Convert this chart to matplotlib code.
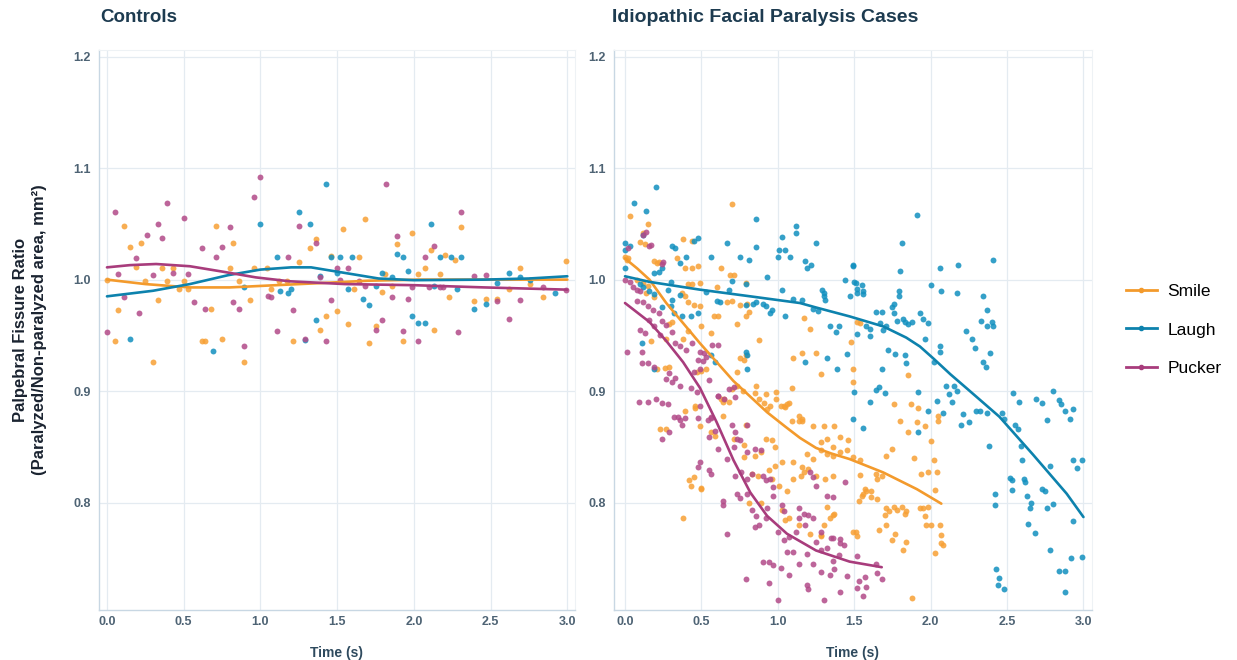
import numpy as np
import matplotlib.pyplot as plt
from matplotlib.lines import Line2D

plt.rcParams['font.family'] = ['Liberation Sans', 'DejaVu Sans']

# colours
C_SMILE = '#f7a035'
C_LAUGH = '#1190bf'
C_PUCKER = '#b24a88'
L_SMILE = '#f39a2c'
L_LAUGH = '#0d82ad'
L_PUCKER = '#a83c7c'

# ---- Controls: scatter (time s, ratio)
ctrl_smile = [
    (0.00, 1.000), (0.05, 0.945), (0.07, 0.973), (0.11, 1.048), (0.15, 1.029), (0.19, 1.011),
    (0.22, 1.033), (0.25, 0.999), (0.30, 0.926), (0.33, 0.982), (0.36, 1.010), (0.39, 0.999),
    (0.43, 1.010), (0.47, 0.992), (0.50, 0.999), (0.53, 0.992), (0.62, 0.945), (0.64, 0.945),
    (0.68, 0.974), (0.71, 1.048), (0.75, 0.947), (0.80, 1.010), (0.82, 1.033), (0.86, 0.999),
    (0.89, 0.926), (0.93, 0.982), (0.96, 1.010), (1.04, 1.010), (1.07, 0.992), (1.12, 0.999),
    (1.17, 0.999), (1.21, 0.945), (1.25, 1.016), (1.32, 1.028), (1.36, 1.036), (1.39, 0.955),
    (1.43, 0.967), (1.46, 1.021), (1.50, 0.972), (1.54, 1.045), (1.57, 0.960), (1.61, 0.992),
    (1.64, 1.020), (1.68, 1.054), (1.71, 0.943), (1.75, 0.958), (1.79, 0.989), (1.81, 1.005),
    (1.86, 0.994), (1.89, 1.032), (1.93, 0.945), (1.99, 1.042), (2.03, 1.005), (2.07, 1.010),
    (2.11, 1.027), (2.13, 0.955), (2.17, 1.005), (2.20, 1.022), (2.23, 0.984), (2.27, 1.018),
    (2.31, 1.047), (2.39, 0.981), (2.47, 0.983), (2.54, 0.983), (2.62, 0.992), (2.69, 1.010),
    (2.76, 0.996), (2.84, 0.984), (2.99, 1.017),
]
ctrl_laugh = [
    (0.15, 0.947), (0.69, 0.936), (0.89, 0.993), (1.00, 1.050), (1.11, 1.020), (1.13, 0.990),
    (1.18, 0.988), (1.20, 0.992), (1.25, 1.061), (1.29, 0.946), (1.32, 1.050), (1.36, 0.964),
    (1.39, 1.003), (1.43, 1.086), (1.46, 1.020), (1.50, 1.006), (1.52, 1.020), (1.57, 0.992),
    (1.60, 1.020), (1.67, 0.983), (1.71, 0.977), (1.75, 0.994), (1.79, 1.006), (1.86, 1.002),
    (1.89, 1.023), (1.93, 1.020), (1.96, 1.008), (1.99, 0.967), (2.03, 0.961), (2.07, 0.961),
    (2.11, 1.050), (2.13, 0.994), (2.17, 1.020), (2.24, 1.020), (2.28, 0.992), (2.31, 1.020),
    (2.39, 0.974), (2.47, 0.978), (2.54, 0.997), (2.62, 1.006), (2.69, 1.002), (2.76, 1.000),
    (2.92, 0.988),
]
ctrl_pucker = [
    (0.00, 0.953), (0.05, 1.061), (0.07, 1.005), (0.11, 0.984), (0.19, 1.019), (0.21, 0.970),
    (0.26, 1.040), (0.30, 1.004), (0.33, 1.050), (0.36, 1.037), (0.39, 1.069), (0.43, 1.006),
    (0.50, 1.055), (0.53, 1.005), (0.57, 0.980), (0.62, 1.028), (0.64, 0.974), (0.71, 1.020),
    (0.75, 1.029), (0.80, 1.047), (0.82, 0.980), (0.86, 0.974), (0.89, 0.940), (0.96, 1.074),
    (1.00, 1.092), (1.05, 0.985), (1.07, 0.984), (1.11, 0.954), (1.18, 1.020), (1.21, 0.973),
    (1.25, 1.048), (1.29, 0.947), (1.36, 1.033), (1.39, 1.002), (1.43, 0.945), (1.46, 0.982),
    (1.50, 1.010), (1.52, 1.000), (1.57, 1.010), (1.64, 0.999), (1.68, 0.994), (1.75, 0.955),
    (1.79, 0.964), (1.82, 1.086), (1.86, 0.984), (1.89, 1.039), (1.93, 0.954), (1.96, 0.983),
    (1.99, 0.993), (2.03, 0.945), (2.07, 1.020), (2.10, 0.993), (2.13, 1.030), (2.17, 0.993),
    (2.19, 0.993), (2.29, 0.953), (2.31, 1.061), (2.39, 1.003), (2.47, 1.004), (2.54, 0.981),
    (2.62, 0.965), (2.69, 0.982), (2.84, 0.993), (2.99, 0.991),
]

# ---- Controls: smooth fits (knots)
ctrl_smile_fit = [(0.0, 1.000), (0.25, 0.996), (0.54, 0.993), (0.8, 0.993), (1.1, 0.995),
                  (1.41, 0.997), (1.7, 0.999), (2.03, 1.000), (2.5, 1.000), (3.0, 1.000)]
ctrl_laugh_fit = [(0.0, 0.985), (0.3, 0.990), (0.54, 0.996), (0.79, 1.004), (1.0, 1.009),
                  (1.2, 1.011), (1.33, 1.011), (1.55, 1.006), (1.77, 1.001), (2.0, 0.9995),
                  (2.46, 1.000), (2.75, 1.001), (3.0, 1.003)]
ctrl_pucker_fit = [(0.0, 1.011), (0.15, 1.013), (0.32, 1.014), (0.54, 1.012), (0.76, 1.007),
                   (0.97, 1.002), (1.19, 0.9985), (1.55, 0.996), (2.0, 0.995), (2.46, 0.993),
                   (3.0, 0.991)]

# ---- Idiopathic facial paralysis cases: scatter
case_smile = [
    (0.03, 1.057), (0.70, 1.068), (0.15, 1.050), (0.12, 1.042), (0.10, 1.034), (0.13, 1.032),
    (0.00, 1.020), (0.02, 1.019), (0.01, 1.018), (0.38, 1.036), (0.44, 1.035), (0.19, 1.017),
    (0.21, 1.015), (0.22, 1.016), (0.34, 1.019), (0.39, 1.010), (0.44, 1.010), (0.48, 1.012),
    (0.63, 1.010), (0.69, 1.004), (0.71, 1.004), (0.08, 1.000), (0.12, 0.997), (0.15, 0.994),
    (0.14, 0.988), (0.19, 0.984), (0.41, 0.996), (0.44, 0.996), (0.49, 0.997), (0.60, 0.993),
    (0.79, 0.997), (0.37, 0.988), (0.39, 0.985), (0.41, 0.980), (0.45, 0.977), (0.49, 0.976),
    (0.67, 0.980), (0.70, 0.981), (0.75, 0.977), (0.80, 0.978), (0.29, 0.960), (0.31, 0.962),
    (0.50, 0.958), (0.56, 0.952), (0.73, 0.960), (0.79, 0.967), (0.81, 0.971), (0.88, 0.946),
    (0.17, 0.945), (0.27, 0.947), (0.21, 0.920), (0.26, 0.921), (0.29, 0.922), (0.38, 0.947),
    (0.41, 0.954), (0.58, 0.967), (0.61, 0.967), (0.47, 0.917), (0.50, 0.918), (0.53, 0.920),
    (0.73, 0.917), (0.75, 0.930), (0.79, 0.932), (0.78, 0.928), (1.17, 0.966), (1.21, 0.956),
    (1.10, 0.930), (1.16, 0.934), (1.25, 0.934), (1.28, 0.915), (1.48, 0.944), (1.52, 0.962),
    (1.54, 0.961), (1.49, 0.920), (1.49, 0.908), (1.85, 0.914), (1.76, 0.888), (1.92, 0.885),
    (1.09, 0.903), (0.85, 0.898), (0.88, 0.893), (0.91, 0.889), (0.93, 0.884), (0.95, 0.887),
    (0.99, 0.893), (1.02, 0.887), (1.05, 0.886), (1.07, 0.889), (1.14, 0.878), (1.16, 0.875),
    (0.63, 0.893), (0.68, 0.890), (0.46, 0.887), (0.64, 0.878), (0.23, 0.866), (0.27, 0.866),
    (0.49, 0.869), (0.56, 0.863), (0.59, 0.860), (0.42, 0.820), (0.45, 0.823), (0.50, 0.813),
    (0.38, 0.786), (0.39, 0.882), (0.46, 0.885), (0.64, 0.890), (0.65, 0.893), (0.70, 0.902),
    (0.73, 0.905), (0.77, 0.900), (0.86, 0.905), (0.92, 0.897), (0.99, 0.899), (0.79, 0.870),
    (0.78, 0.852), (0.71, 0.857), (0.78, 0.841), (0.85, 0.842), (0.89, 0.845), (0.92, 0.857),
    (0.96, 0.856), (0.98, 0.850), (1.04, 0.887), (1.06, 0.888), (1.09, 0.873), (1.14, 0.873),
    (1.16, 0.873), (1.23, 0.869), (1.30, 0.869), (1.37, 0.869), (0.83, 0.826), (0.87, 0.824),
    (0.94, 0.829), (0.98, 0.833), (1.03, 0.836), (0.96, 0.821), (1.01, 0.815), (1.06, 0.810),
    (1.10, 0.821), (1.15, 0.824), (1.17, 0.827), (1.19, 0.844), (1.23, 0.839), (1.28, 0.847),
    (1.32, 0.844), (1.36, 0.842), (1.41, 0.845), (1.45, 0.847), (1.49, 0.841), (1.54, 0.838),
    (1.10, 0.836), (1.16, 0.832), (1.20, 0.830), (1.25, 0.824), (1.31, 0.821), (1.36, 0.824),
    (1.28, 0.854), (1.32, 0.857), (1.36, 0.850), (1.41, 0.859), (1.46, 0.856), (1.03, 0.793),
    (1.07, 0.786), (1.14, 0.780), (1.28, 0.771), (1.32, 0.796), (1.36, 0.789), (1.49, 0.774),
    (1.56, 0.808), (1.53, 0.801), (1.55, 0.806), (1.58, 0.810), (1.61, 0.805), (1.65, 0.803),
    (1.68, 0.824), (1.65, 0.821), (1.70, 0.789), (1.73, 0.792), (1.78, 0.793), (1.81, 0.796),
    (1.83, 0.790), (1.66, 0.775), (1.71, 0.780), (1.75, 0.766), (1.82, 0.757), (1.80, 0.873),
    (1.85, 0.863), (1.87, 0.888), (1.91, 0.872), (1.96, 0.869), (2.00, 0.855), (2.05, 0.878),
    (1.89, 0.840), (1.94, 0.826), (1.98, 0.827), (2.04, 0.827), (1.71, 0.842), (1.75, 0.848),
    (1.93, 0.795), (1.98, 0.796), (1.97, 0.780), (2.00, 0.780), (2.05, 0.873), (2.02, 0.838),
    (2.06, 0.780), (2.07, 0.771), (2.07, 0.764), (2.03, 0.755), (1.88, 0.714), (0.81, 0.800),
    (0.89, 0.800), (1.05, 0.784), (1.21, 0.772), (1.28, 0.770), (1.30, 0.780), (1.34, 0.786),
    (1.37, 0.790), (1.51, 0.774), (1.54, 0.825), (1.64, 0.826), (1.57, 0.812), (1.61, 0.810),
    (1.71, 0.795), (1.76, 0.796), (1.84, 0.792), (1.77, 0.772), (1.84, 0.765), (1.52, 0.770),
    (1.95, 0.795), (2.03, 0.811), (1.96, 0.788), (2.08, 0.762), (0.43, 0.815), (0.50, 0.812),
]
case_laugh = [
    (0.00, 1.033), (0.00, 1.027), (0.03, 1.030), (0.00, 1.010), (0.06, 1.069), (0.12, 1.040),
    (0.14, 1.062), (0.10, 0.996), (0.12, 0.993), (0.16, 0.990), (0.19, 0.987), (0.20, 1.083),
    (0.11, 0.943), (0.19, 0.920), (0.19, 1.006), (0.22, 1.007), (0.24, 1.010), (0.24, 0.975),
    (0.28, 0.991), (0.30, 0.998), (0.30, 0.976), (0.31, 1.030), (0.31, 0.982), (0.32, 0.970),
    (0.33, 1.028), (0.36, 1.015), (0.36, 0.986), (0.37, 0.967), (0.40, 1.020), (0.43, 0.967),
    (0.45, 1.035), (0.48, 1.037), (0.48, 0.970), (0.53, 0.989), (0.56, 1.020), (0.56, 0.932),
    (0.59, 0.926), (0.60, 0.981), (0.62, 0.980), (0.67, 1.033), (0.68, 0.991), (0.70, 0.999),
    (0.75, 1.020), (0.79, 0.977), (0.79, 0.996), (0.79, 0.935), (0.80, 0.932), (0.80, 0.920),
    (0.81, 1.018), (0.84, 0.978), (0.86, 1.054), (0.86, 1.029), (0.86, 0.980), (0.90, 0.978),
    (0.92, 0.976), (0.93, 1.002), (0.95, 0.970), (0.96, 0.973), (1.00, 1.020), (1.01, 1.027),
    (1.03, 1.038), (1.03, 0.991), (1.05, 1.027), (1.05, 0.967), (1.08, 1.020), (1.10, 0.983),
    (1.12, 1.048), (1.12, 1.042), (1.16, 0.982), (1.18, 1.017), (1.18, 0.926), (1.19, 1.010),
    (1.22, 1.013), (1.23, 0.974), (1.25, 1.033), (1.26, 0.972), (1.29, 0.991), (1.30, 0.988),
    (1.30, 0.985), (1.31, 0.982), (1.32, 0.930), (1.34, 0.958), (1.38, 0.953), (1.39, 0.920),
    (1.40, 0.958), (1.44, 1.000), (1.45, 0.933), (1.47, 0.985), (1.49, 1.012), (1.49, 0.875),
    (1.50, 0.998), (1.51, 0.997), (1.52, 0.988), (1.52, 0.951), (1.50, 0.899), (1.56, 0.990),
    (1.56, 0.987), (1.56, 0.867), (1.58, 0.958), (1.60, 0.956), (1.60, 0.949), (1.60, 0.890),
    (1.64, 0.971), (1.64, 0.901), (1.67, 0.961), (1.69, 0.955), (1.68, 0.920), (1.66, 0.904),
    (1.70, 0.898), (1.71, 0.958), (1.72, 0.937), (1.75, 0.975), (1.76, 0.978), (1.77, 0.933),
    (1.78, 0.963), (1.79, 0.990), (1.79, 0.985), (1.80, 1.008), (1.81, 1.033), (1.82, 0.965),
    (1.83, 0.932), (1.84, 0.925), (1.85, 0.960), (1.91, 1.058), (1.92, 0.899), (1.92, 0.863),
    (1.93, 0.970), (1.95, 0.965), (1.96, 0.947), (1.98, 0.961), (1.98, 0.882), (2.00, 0.995),
    (2.02, 0.926), (2.04, 0.891), (2.06, 0.940), (2.06, 0.935), (2.06, 1.010), (2.07, 0.990),
    (2.08, 0.880), (2.10, 0.905), (2.12, 0.897), (2.14, 0.890), (2.15, 0.905), (2.17, 0.988),
    (2.17, 0.900), (2.18, 1.013), (2.20, 0.870), (2.21, 0.879), (2.23, 0.954), (2.25, 0.872),
    (2.27, 0.947), (2.29, 0.939), (2.30, 0.882), (2.32, 0.882), (2.33, 0.963), (2.34, 0.926),
    (2.34, 0.985), (2.36, 0.922), (2.37, 0.880), (2.37, 0.958), (2.38, 0.851), (2.39, 0.934),
    (2.41, 1.018), (2.41, 0.958), (2.42, 0.808), (2.42, 0.798), (2.43, 0.740), (2.45, 0.732),
    (2.44, 0.726), (2.48, 0.722), (2.47, 0.880), (2.48, 0.875), (2.54, 0.898), (2.52, 0.822),
    (2.53, 0.820), (2.53, 0.811), (2.55, 0.870), (2.57, 0.866), (2.58, 0.890), (2.59, 0.851),
    (2.60, 0.838), (2.61, 0.821), (2.63, 0.806), (2.62, 0.818), (2.64, 0.781), (2.65, 0.795),
    (2.66, 0.800), (2.68, 0.773), (2.69, 0.893), (2.73, 0.889), (2.73, 0.812), (2.75, 0.810),
    (2.76, 0.795), (2.76, 0.874), (2.78, 0.833), (2.78, 0.757), (2.80, 0.799), (2.80, 0.900),
    (2.84, 0.892), (2.84, 0.739), (2.85, 0.888), (2.88, 0.882), (2.88, 0.739), (2.88, 0.720),
    (2.91, 0.875), (2.92, 0.750), (2.93, 0.838), (2.93, 0.783), (2.93, 0.884), (2.96, 0.831),
    (2.99, 0.838), (2.99, 0.751), (1.49, 1.013), (1.52, 0.992), (1.55, 0.995), (1.68, 0.971),
    (1.76, 0.970), (1.83, 0.962), (1.88, 0.962), (2.37, 0.973), (2.40, 0.962),
]
case_pucker = [
    (0.12, 1.040), (0.14, 1.043), (0.16, 1.030), (0.17, 1.031), (0.02, 1.028), (0.25, 1.016),
    (0.24, 1.014), (0.00, 1.000), (0.03, 0.998), (0.05, 0.993), (0.08, 0.991), (0.10, 0.990),
    (0.08, 0.981), (0.12, 0.980), (0.15, 0.976), (0.18, 0.973), (0.22, 0.970), (0.16, 0.964),
    (0.24, 0.963), (0.27, 0.959), (0.31, 0.953), (0.23, 0.950), (0.10, 0.955), (0.13, 0.952),
    (0.19, 0.958), (0.33, 0.943), (0.36, 0.940), (0.40, 0.937), (0.44, 0.943), (0.01, 0.935),
    (0.11, 0.935), (0.11, 0.925), (0.15, 0.925), (0.19, 0.922), (0.29, 0.916), (0.33, 0.912),
    (0.49, 0.935), (0.52, 0.934), (0.48, 0.928), (0.51, 0.927), (0.53, 0.931), (0.57, 0.941),
    (0.61, 0.941), (0.45, 0.917), (0.49, 0.920), (0.55, 0.910), (0.09, 0.890), (0.15, 0.890),
    (0.20, 0.893), (0.28, 0.888), (0.35, 0.877), (0.39, 0.876), (0.56, 0.876), (0.61, 0.896),
    (0.68, 0.902), (0.71, 0.904), (0.72, 0.895), (0.43, 0.903), (0.47, 0.899), (0.24, 0.889),
    (0.31, 0.908), (0.27, 0.911), (0.36, 0.905), (0.32, 0.877), (0.36, 0.874), (0.37, 0.870),
    (0.24, 0.857), (0.29, 0.863), (0.48, 0.876), (0.54, 0.874), (0.56, 0.877), (0.49, 0.887),
    (0.61, 0.896), (0.65, 0.893), (0.55, 0.859), (0.59, 0.864), (0.48, 0.832), (0.55, 0.829),
    (0.49, 0.836), (0.56, 0.826), (0.61, 0.848), (0.67, 0.839), (0.71, 0.850), (0.75, 0.856),
    (0.80, 0.845), (0.85, 0.848), (0.89, 0.847), (0.70, 0.870), (0.72, 0.863), (0.73, 0.857),
    (0.80, 0.870), (0.72, 0.824), (0.76, 0.827), (0.80, 0.821), (0.83, 0.826), (0.64, 0.801),
    (0.64, 0.798), (0.73, 0.808), (0.75, 0.804), (0.80, 0.808), (0.90, 0.824), (0.92, 0.820),
    (0.95, 0.821), (0.97, 0.814), (0.83, 0.793), (0.86, 0.788), (0.92, 0.786), (0.93, 0.795),
    (0.88, 0.780), (0.85, 0.778), (0.97, 0.806), (1.03, 0.798), (1.04, 0.792), (1.00, 0.774),
    (1.04, 0.766), (1.07, 0.769), (1.12, 0.774), (1.14, 0.786), (1.17, 0.790), (1.14, 0.795),
    (1.20, 0.789), (1.23, 0.786), (1.18, 0.780), (1.21, 0.827), (1.23, 0.823), (1.25, 0.815),
    (1.32, 0.806), (1.36, 0.805), (1.44, 0.818), (0.90, 0.747), (0.94, 0.747), (0.97, 0.744),
    (1.02, 0.741), (1.06, 0.756), (1.10, 0.756), (1.14, 0.745), (1.19, 0.754), (1.23, 0.745),
    (1.28, 0.757), (1.32, 0.759), (1.36, 0.768), (1.41, 0.764), (1.40, 0.753), (1.36, 0.748),
    (0.79, 0.731), (0.94, 0.728), (1.00, 0.713), (1.07, 0.735), (1.19, 0.726), (1.20, 0.722),
    (1.28, 0.738), (1.30, 0.713), (1.34, 0.735), (1.37, 0.740), (1.41, 0.720), (1.45, 0.734),
    (1.52, 0.723), (1.56, 0.716), (1.58, 0.724), (1.65, 0.737), (1.68, 0.731), (1.25, 0.765),
    (1.28, 0.774), (1.35, 0.768), (1.41, 0.767), (1.43, 0.762), (0.67, 0.772), (1.52, 0.752),
    (1.57, 0.733), (1.64, 0.745), (1.53, 0.730),
]

# ---- Cases: smooth fits
case_smile_fit = [(0.0, 1.019), (0.08, 1.010), (0.16, 1.000), (0.27, 0.979), (0.49, 0.943),
                  (0.71, 0.909), (0.93, 0.881), (1.05, 0.868), (1.145, 0.858), (1.25, 0.849),
                  (1.35, 0.844), (1.47, 0.839), (1.69, 0.827), (1.91, 0.812), (2.07, 0.799)]
case_laugh_fit = [(0.0, 1.003), (0.16, 0.998), (0.49, 0.991), (0.82, 0.985), (1.145, 0.979),
                  (1.25, 0.975), (1.47, 0.967), (1.69, 0.958), (1.84, 0.948), (1.93, 0.940),
                  (2.02, 0.929), (2.13, 0.915), (2.24, 0.902), (2.45, 0.877), (2.67, 0.843),
                  (2.89, 0.808), (3.0, 0.787)]
case_pucker_fit = [(0.0, 0.979), (0.16, 0.962), (0.27, 0.945), (0.38, 0.926), (0.49, 0.903),
                   (0.6, 0.872), (0.71, 0.838), (0.82, 0.809), (0.93, 0.788), (1.06, 0.772),
                   (1.25, 0.757), (1.47, 0.747), (1.68, 0.742)]

xticks = [0.0, 0.5, 1.0, 1.5, 2.0, 2.5, 3.0]
yticks = [0.8, 0.9, 1.0, 1.1, 1.2]
series_names = ['Smile', 'Laugh', 'Pucker']


def style_axes(ax, xlim):
    ax.set_xlim(*xlim)
    ax.set_ylim(0.7036, 1.206)
    ax.set_xticks(xticks)
    ax.set_xticklabels([f'{t:.1f}' for t in xticks])
    ax.set_yticks(yticks)
    ax.set_yticklabels([f'{v:.1f}' for v in yticks])
    ax.grid(True, color='#e4ebf1', linewidth=0.9)
    ax.set_axisbelow(True)
    ax.tick_params(axis='x', length=0, labelsize=9, labelcolor='#4e6374', pad=4)
    ax.tick_params(axis='y', length=0, labelsize=9, labelcolor='#4e6374', pad=6)
    for lab in ax.get_xticklabels() + ax.get_yticklabels():
        lab.set_fontweight('bold')
    for side in ['top', 'right']:
        ax.spines[side].set_color('#eef2f5')
    for side in ['left', 'bottom']:
        ax.spines[side].set_color('#c8d7e3')
        ax.spines[side].set_linewidth(1.0)
    ax.set_xlabel('Time (s)', fontsize=10, fontweight='bold', color='#2e4a5e', labelpad=13)


def draw(ax, pts, fit, col, lcol):
    a = np.array(pts)
    ax.scatter(a[:, 0], a[:, 1], s=18, color=col, alpha=0.85, linewidths=0, zorder=2)
    f = np.array(fit)
    ax.plot(f[:, 0], f[:, 1], color=lcol, linewidth=1.9, zorder=3, solid_capstyle='round')


fig = plt.figure(figsize=(12.37, 6.60), dpi=100)
ax1 = fig.add_axes([99 / 1237, 50 / 660, 476 / 1237, 560 / 660])
ax2 = fig.add_axes([614 / 1237, 50 / 660, 478 / 1237, 560 / 660])

draw(ax1, ctrl_smile, ctrl_smile_fit, C_SMILE, L_SMILE)
draw(ax1, ctrl_laugh, ctrl_laugh_fit, C_LAUGH, L_LAUGH)
draw(ax1, ctrl_pucker, ctrl_pucker_fit, C_PUCKER, L_PUCKER)
draw(ax2, case_smile, case_smile_fit, C_SMILE, L_SMILE)
draw(ax2, case_laugh, case_laugh_fit, C_LAUGH, L_LAUGH)
draw(ax2, case_pucker, case_pucker_fit, C_PUCKER, L_PUCKER)

style_axes(ax1, (-0.052, 3.05))
style_axes(ax2, (-0.072, 3.056))

fig.text(100 / 1237, 1 - 18 / 660, 'Controls', fontsize=13.5, fontweight='bold',
         color='#1d3b50', va='center', ha='left')
fig.text(612 / 1237, 1 - 18 / 660, 'Idiopathic Facial Paralysis Cases', fontsize=14,
         fontweight='bold', color='#1d3b50', va='center', ha='left')
fig.text(30 / 1237, 0.5, 'Palpebral Fissure Ratio\n(Paralyzed/Non-paralyzed area, mm²)',
         rotation=90, fontsize=12, fontweight='bold', color='#1a2330',
         ha='center', va='center', linespacing=1.3)

handles = [Line2D([0], [0], color=c, linewidth=2, marker='o', markersize=3)
           for c in [L_SMILE, L_LAUGH, L_PUCKER]]
fig.legend(handles, series_names, loc='center left', bbox_to_anchor=(1110 / 1237, 1 - 330 / 660),
           frameon=False, fontsize=12.5, handlelength=1.8, labelspacing=1.35, handletextpad=0.6)

fig.savefig('out.png', dpi=100)
